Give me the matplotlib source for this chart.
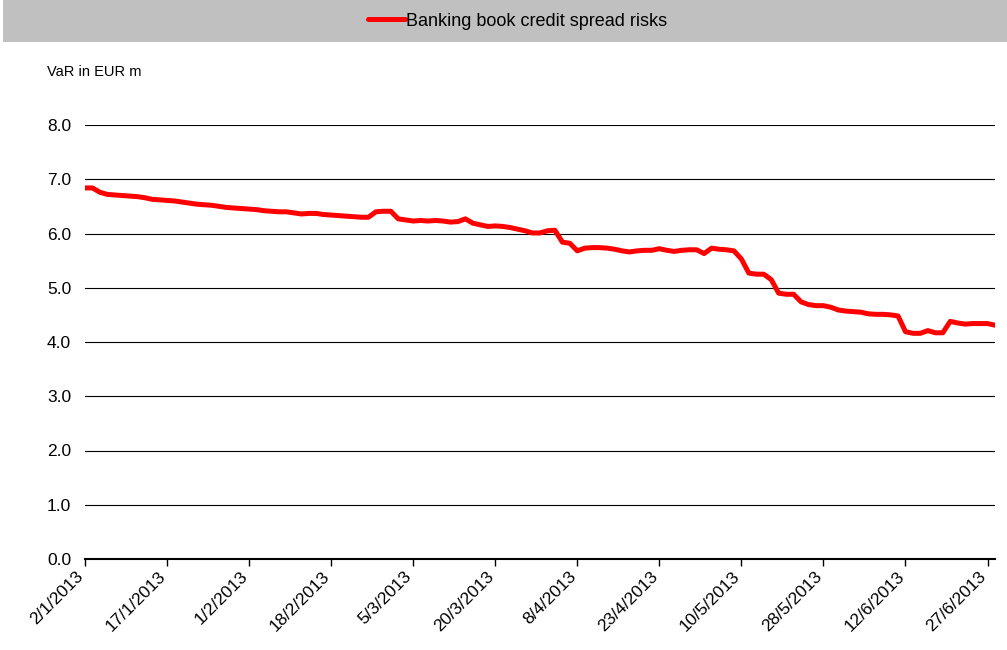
import matplotlib.pyplot as plt
import matplotlib.transforms as mtransforms
from matplotlib.patches import Rectangle

plt.rcParams['font.family'] = ['Liberation Sans', 'DejaVu Sans']

# VaR, banking book credit spread risks (EUR m), one value per business day
var_values = [
    6.84, 6.84, 6.76, 6.72, 6.71, 6.70, 6.69, 6.68, 6.66, 6.63,
    6.62, 6.61, 6.60, 6.58, 6.56, 6.54, 6.53, 6.52, 6.50, 6.48,
    6.47, 6.46, 6.45, 6.44, 6.42, 6.41, 6.40, 6.40, 6.38, 6.36,
    6.37, 6.37, 6.35, 6.34, 6.33, 6.32, 6.31, 6.30, 6.30, 6.40,
    6.41, 6.41, 6.27, 6.25, 6.23, 6.24, 6.23, 6.24, 6.23, 6.21,
    6.22, 6.27, 6.19, 6.16, 6.13, 6.14, 6.13, 6.11, 6.08, 6.05,
    6.01, 6.01, 6.05, 6.06, 5.84, 5.82, 5.68, 5.73, 5.74, 5.74,
    5.73, 5.71, 5.68, 5.66, 5.68, 5.69, 5.69, 5.72, 5.69, 5.67,
    5.69, 5.70, 5.70, 5.63, 5.73, 5.71, 5.70, 5.68, 5.53, 5.27,
    5.25, 5.25, 5.15, 4.90, 4.88, 4.88, 4.74, 4.69, 4.67, 4.67,
    4.64, 4.59, 4.57, 4.56, 4.55, 4.52, 4.51, 4.51, 4.50, 4.48,
    4.19, 4.16, 4.16, 4.21, 4.17, 4.17, 4.38, 4.35, 4.33, 4.34,
    4.34, 4.34, 4.31,
]
tick_labels = ["2/1/2013", "17/1/2013", "1/2/2013", "18/2/2013", "5/3/2013",
               "20/3/2013", "8/4/2013", "23/4/2013", "10/5/2013", "28/5/2013",
               "12/6/2013", "27/6/2013"]
series_name = "Banking book credit spread risks"

fig = plt.figure(figsize=(10.07, 6.5), dpi=100)
ax = fig.add_axes([85 / 1007, 1 - 559 / 650, 910 / 1007, 434 / 650])

x = list(range(len(var_values)))
line, = ax.plot(x, var_values, color='#ff0000', lw=3.6, solid_joinstyle='round',
                solid_capstyle='round', label=series_name, zorder=3)

ax.set_xlim(0, len(var_values) - 1)
ax.set_ylim(0, 8)
ax.set_yticks([i for i in range(9)])
ax.set_yticklabels(["%.1f" % v for v in range(9)], fontsize=12.5)
ax.tick_params(axis='y', length=0, pad=10)
ax.yaxis.grid(True, color='black', lw=0.8)
ax.set_axisbelow(True)

ax.set_xticks([i * 11 for i in range(len(tick_labels))])
ax.set_xticklabels(tick_labels, rotation=45, ha='right', va='top',
                   rotation_mode='anchor', fontsize=12.5)
ax.tick_params(axis='x', direction='out', length=5, width=1, pad=2)
# nudge rotated labels so their end sits just left of the tick, like the original
shift = mtransforms.ScaledTranslation(-9 / 100, 0, fig.dpi_scale_trans)
for lbl in ax.get_xticklabels():
    lbl.set_transform(lbl.get_transform() + shift)

for s in ['top', 'right', 'left']:
    ax.spines[s].set_visible(False)
ax.spines['bottom'].set_linewidth(1.5)
ax.spines['bottom'].set_zorder(4)

# grey legend band at the top
fig.patches.append(Rectangle((3 / 1007, 1 - 42 / 650), 1004 / 1007, 42 / 650,
                             transform=fig.transFigure, facecolor='#c0c0c0',
                             edgecolor='none', zorder=0))
fig.legend(handles=[line], loc='center', bbox_to_anchor=(518 / 1007, 1 - 21 / 650),
           frameon=False, fontsize=13, handlelength=2.0, handletextpad=0.1)

fig.text(47 / 1007, 1 - 72 / 650, "VaR in EUR m", fontsize=10.5, va='center')

fig.savefig("out.png", dpi=100)
